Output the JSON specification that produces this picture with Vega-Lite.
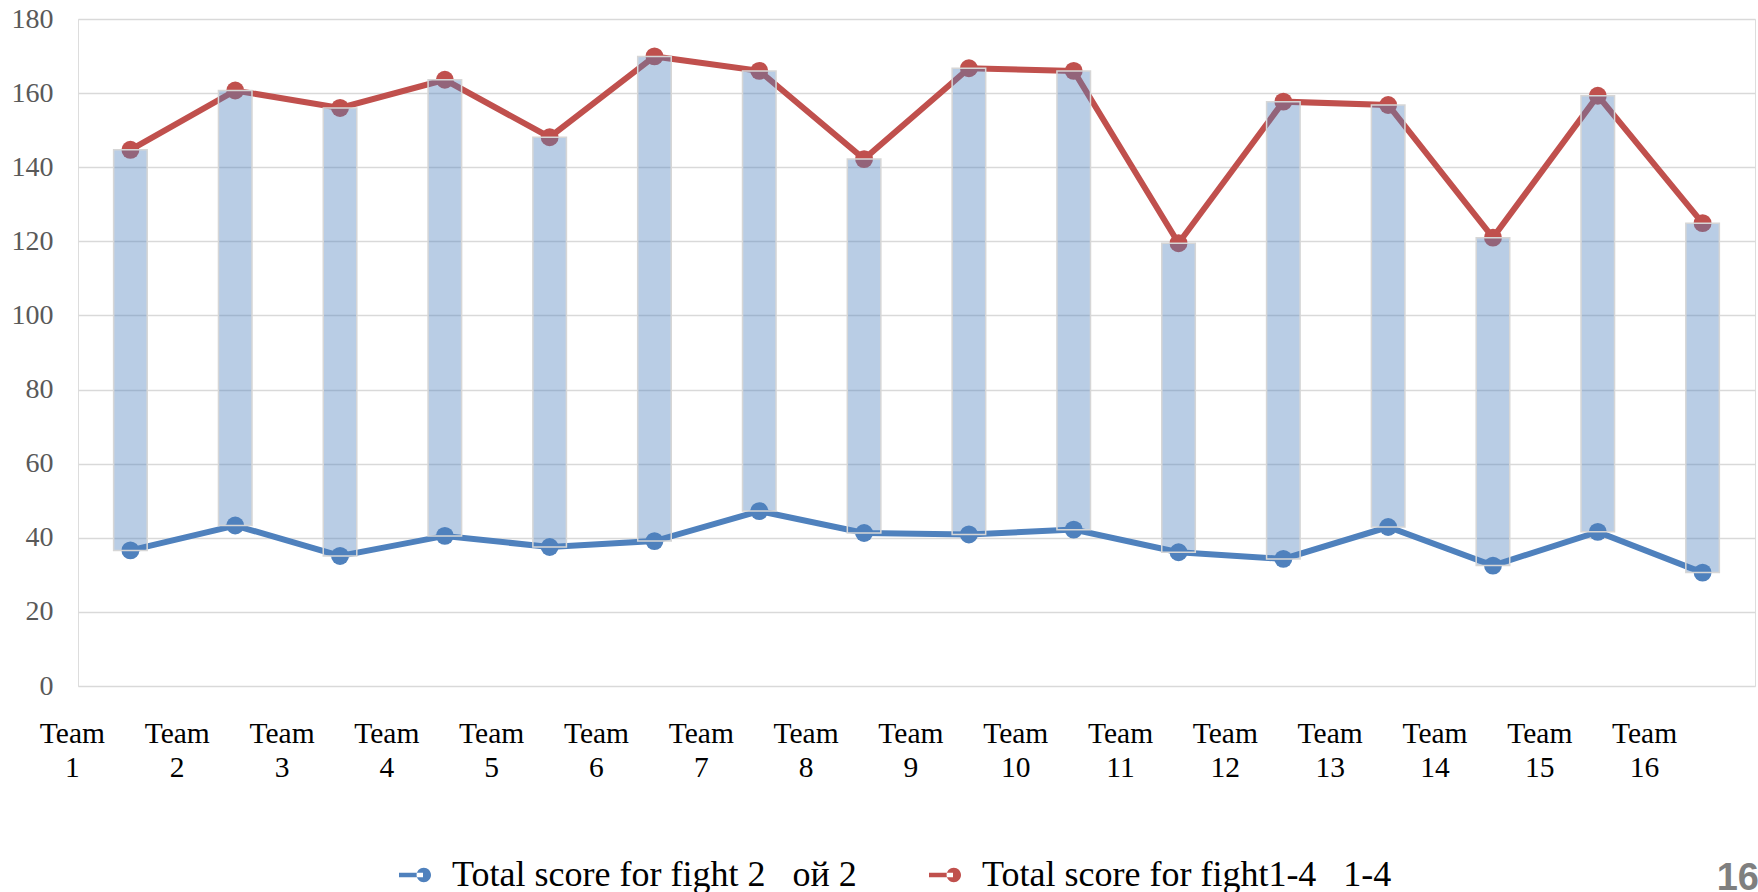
{
  "$schema": "https://vega.github.io/schema/vega-lite/v6.json",
  "width": 1677,
  "height": 667,
  "autosize": {"type": "none"},
  "padding": {"left": 78, "top": 19, "right": 3, "bottom": 206},
  "background": "white",
  "title": {"text": "16", "orient": "bottom", "anchor": "end", "font": "Liberation Sans", "fontSize": 38, "fontWeight": "bold", "color": "#7F7F7F", "dx": 4, "offset": -33},
  "config": {
    "axis": {"labelFont": "Liberation Serif"},
    "axisY": {
      "domain": false, "ticks": false, "labelFont": "Liberation Serif", "labelFontSize": 28,
      "labelColor": "#595959", "labelPadding": 25, "gridColor": "#D9D9D9", "gridWidth": 1.5
    },
    "legend": {
      "labelFont": "Liberation Serif",
      "layout": {"bottom": {"anchor": "middle"}}
    }
  },
  "data": {"values": [
    {"team": "Team 1", "fight2": 36.6, "total": 144.7},
    {"team": "Team 2", "fight2": 43.3, "total": 160.7},
    {"team": "Team 3", "fight2": 35.1, "total": 156.0},
    {"team": "Team 4", "fight2": 40.5, "total": 163.6},
    {"team": "Team 5", "fight2": 37.5, "total": 148.1},
    {"team": "Team 6", "fight2": 39.1, "total": 169.9},
    {"team": "Team 7", "fight2": 47.2, "total": 166.0},
    {"team": "Team 8", "fight2": 41.3, "total": 142.2},
    {"team": "Team 9", "fight2": 40.9, "total": 166.7},
    {"team": "Team 10", "fight2": 42.2, "total": 166.0},
    {"team": "Team 11", "fight2": 36.1, "total": 119.5},
    {"team": "Team 12", "fight2": 34.3, "total": 157.7},
    {"team": "Team 13", "fight2": 42.9, "total": 156.8},
    {"team": "Team 14", "fight2": 32.5, "total": 121.0},
    {"team": "Team 15", "fight2": 41.6, "total": 159.3},
    {"team": "Team 16", "fight2": 30.6, "total": 124.9}
  ]},
  "encoding": {
    "x": {
      "field": "team", "type": "nominal", "sort": null,
      "scale": {"paddingInner": 0.68, "paddingOuter": 0.34},
      "axis": {
        "title": null, "domain": false, "ticks": false, "grid": false,
        "labelAngle": 0, "labelFont": "Liberation Serif", "labelFontSize": 29.5,
        "labelColor": "#000000", "labelOffset": -58, "labelPadding": 33,
        "labelLineHeight": 34, "labelExpr": "split(datum.label, ' ')"
      }
    }
  },
  "layer": [
    {
      "transform": [{"fold": ["fight2", "total"], "as": ["series", "score"]}],
      "encoding": {
        "y": {
          "field": "score", "type": "quantitative",
          "scale": {"domain": [0, 180], "nice": false},
          "axis": {
            "title": null, "domain": false, "ticks": false, "tickCount": 9,
            "labelFont": "Liberation Serif", "labelFontSize": 28, "labelColor": "#595959",
            "labelPadding": 25, "gridColor": "#D9D9D9", "gridWidth": 1.5
          }
        },
        "color": {
          "field": "series", "type": "nominal",
          "scale": {"domain": ["fight2", "total"], "range": ["#4F81BD", "#C0504D"]},
          "legend": {
            "orient": "bottom", "direction": "horizontal",
            "title": "\u00a0", "titleOrient": "right", "titlePadding": 46, "titleFontSize": 36,
            "labelFont": "Liberation Serif", "labelFontSize": 36, "labelColor": "#000000",
            "labelLimit": 0,
            "labelExpr": "datum.value == 'fight2' ? 'Total score for fight 2\u00a0\u00a0\u00a0ой 2' : 'Total score for fight1-4\u00a0\u00a0\u00a01-4'",
            "symbolType": "M-1,-0.14L0.5,-0.14L0.5,0.14L-1,0.14Z M0.1,0A0.45,0.45 0 1,0 1,0A0.45,0.45 0 1,0 0.1,0Z",
            "symbolSize": 1024, "symbolStrokeWidth": 0,
            "columnPadding": 70, "labelOffset": 19, "offset": 75,
            "encode": {"symbols": {"update": {"fill": {"scale": "color", "field": "value"}, "opacity": {"value": 1}}}}
          }
        }
      },
      "layer": [
        {"mark": {"type": "line", "strokeWidth": 6}},
        {"mark": {"type": "point", "filled": true, "size": 320, "opacity": 1}}
      ]
    },
    {
      "mark": {"type": "bar", "fill": "#4F81BD", "fillOpacity": 0.4, "stroke": "#D6D6D6", "strokeWidth": 1.5, "strokeOpacity": 1},
      "encoding": {
        "y": {"field": "fight2", "type": "quantitative", "axis": {"title": null, "tickCount": 9}},
        "y2": {"field": "total"}
      }
    }
  ]
}
